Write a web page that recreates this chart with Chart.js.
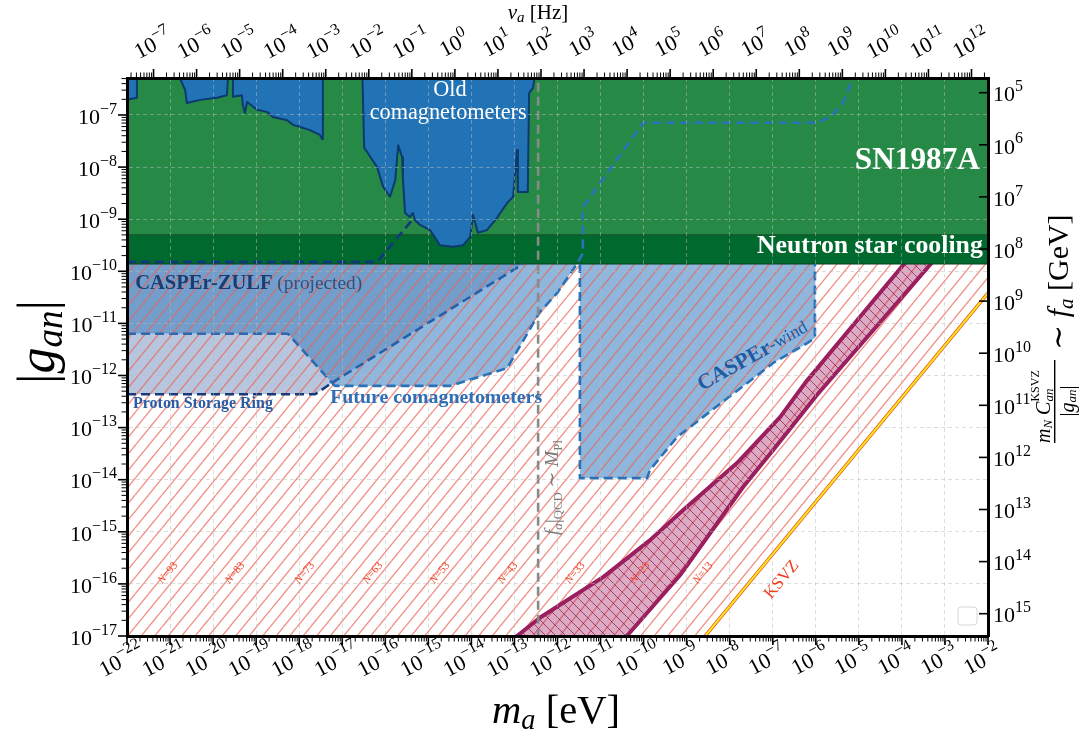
<!DOCTYPE html>
<html>
<head>
<meta charset="utf-8">
<script src="https://cdn.jsdelivr.net/npm/chart.js@4.4.1/dist/chart.umd.min.js"></script>
<style>
  html, body { margin: 0; padding: 0; background: #fff; }
  canvas { display: block; }
</style>
</head>
<body>
<canvas id="axionChart" width="1084" height="735"></canvas>
<script>
// axis extents (log10 values)
const massLimits = [-22, -2];           // m_a [eV]
const couplingLimits = [-17, -6.29];    // |g_an|
const hzPerEv = 2.418e14;               // nu_a = m_a / (2 pi hbar)
const faNorm = -1.572;                  // log10(m_N C_an^KSVZ / GeV)

const massTickExp = [-22, -21, -20, -19, -18, -17, -16, -15, -14, -13, -12, -11, -10, -9, -8, -7, -6, -5, -4, -3, -2];
const couplingTickExp = [-17, -16, -15, -14, -13, -12, -11, -10, -9, -8, -7];
const hzTickExp = [-7, -6, -5, -4, -3, -2, -1, 0, 1, 2, 3, 4, 5, 6, 7, 8, 9, 10, 11, 12];
const faTickExp = [5, 6, 7, 8, 9, 10, 11, 12, 13, 14, 15];

// all curves below are log10(m_a/eV), log10(|g_an|)
const snBound = -9.30;
const nsBound = -9.86;

const oldComagM = [-22, -21.77, -21.77, -20.93, -20.65, -20.61, -20.30, -19.91, -19.68, -19.63, -19.54, -19.54, -19.33, -19.31, -19.26, -19.21, -18.98, -18.75, -18.61, -18.28, -18.14, -17.98, -17.75, -17.52, -17.47, -17.45, -16.54, -16.49, -16.19, -16.05, -15.89, -15.77, -15.70, -15.61, -15.59, -15.54, -15.43, -15.36, -15.31, -15.19, -14.96, -14.73, -14.43, -14.19, -14.03, -13.96, -13.85, -13.64, -13.41, -13.17, -13.03, -12.94, -12.92, -12.69, -12.66, -12.57, -12.48, -2];
const oldComagG = [-6.71, -6.67, -6, -6, -6.52, -6.77, -6.71, -6.67, -6.62, -6, -6, -6.65, -6.62, -6.81, -6.96, -6.75, -6.90, -6.94, -7.04, -7.10, -7.19, -7.23, -7.29, -7.38, -7.46, -6, -6, -7.63, -8.00, -8.38, -8.57, -8.25, -7.58, -7.81, -8.25, -8.88, -8.96, -8.88, -9.02, -9.11, -9.21, -9.50, -9.53, -9.50, -9.34, -8.92, -9.26, -9.21, -8.98, -8.69, -8.57, -7.67, -8.48, -8.48, -6.58, -6.48, -6, -6];

const zulfM = [-22, -12.80, -17.24, -18.26, -22];
const zulfG = [-9.86, -9.86, -12.14, -11.20, -11.20];
const zulfTopM = [-22, -16.19, -15.36];
const zulfTopG = [-9.82, -9.82, -9.00];
const zulfEdgeM = [-17.24, -12.80];
const zulfEdgeG = [-12.14, -9.86];

const psrM = [-22, -18.26, -17.24, -17.63, -22];
const psrG = [-11.20, -11.20, -12.14, -12.36, -12.36];
const psrTopM = [-22, -18.26, -17.24];
const psrTopG = [-11.20, -11.20, -12.14];
const psrLowM = [-22, -17.63, -17.24];
const psrLowG = [-12.36, -12.36, -12.14];

const futureM = [-17.24, -12.80, -11.55, -12.01, -12.41, -13.17, -14.50, -17.17];
const futureG = [-12.14, -9.86, -9.86, -10.42, -10.78, -11.86, -12.20, -12.20];
const futureCurveM = [-17.24, -17.17, -14.50, -13.17, -12.41, -12.01, -11.55, -11.41, -11.41, -10.01, -5.97, -5.67, -5.37, -5.05];
const futureCurveG = [-12.14, -12.20, -12.20, -11.86, -10.78, -10.42, -9.86, -9.65, -8.77, -7.15, -7.15, -7.04, -6.77, -6.10];

const windM = [-11.48, -6.02, -6.02, -6.20, -6.99, -9.22, -9.85, -9.92, -11.48];
const windG = [-9.86, -9.86, -11.28, -11.38, -11.76, -13.18, -13.81, -13.97, -13.97];
const windEdgeM = [-11.48, -11.48, -9.92, -9.85, -9.22, -6.99, -6.20, -6.02, -6.02];
const windEdgeG = [-9.86, -13.97, -13.97, -13.81, -13.18, -11.76, -11.38, -11.28, -9.86];

const bandLeftM = [-13.28, -12.94, -12.41, -10.94, -9.85, -9.08, -7.83, -6.83, -6.20, -3.97, -3.60];
const bandLeftG = [-17.20, -17.00, -16.65, -15.87, -15.16, -14.58, -13.68, -12.80, -12.09, -9.88, -9.50];
const bandRightM = [-10.61, -10.39, -9.15, -7.69, -6.99, -5.97, -3.35, -2.97];
const bandRightG = [-17.20, -17.00, -15.83, -14.14, -13.43, -12.37, -9.88, -9.50];

const ksvzM = [-8.80, -2];
const ksvzG = [-17.23, -10.42];

const hatchM = [-22, -2, -2, -8.57, -22];
const hatchG = [-9.86, -9.86, -10.42, -17, -17];

const qcdM = [-12.45, -12.45];
const qcdG = [-17.3, -6];

const nLabelM = [-21.05, -19.49, -17.87, -16.29, -14.73, -13.15, -11.59, -10.08, -8.62];
const nLabelText = ['93', '83', '73', '63', '53', '43', '33', '23', '13'];
const nLabelG = -15.79;

const SERIF = "'Liberation Serif', 'DejaVu Serif', serif";
const gridColor = 'rgba(185,185,185,0.55)';

function pts(ms, gs) {
    return ms.map((m, i) => ({ x: Math.pow(10, m), y: Math.pow(10, gs[i]) }));
}

function stripes(w, h, step, color, width, down) {
    const c = document.createElement('canvas');
    c.width = w;
    c.height = h;
    const g = c.getContext('2d');
    g.strokeStyle = color;
    g.lineWidth = width;
    for (let k = -4; k <= 4; k++) {
        g.beginPath();
        if (down) {
            g.moveTo(k * step, 0);
            g.lineTo(k * step + w, h);
        } else {
            g.moveTo(k * step, h);
            g.lineTo(k * step + w, 0);
        }
        g.stroke();
    }
    return g.createPattern(c, 'repeat');
}

const hatchPattern = stripes(27, 33, 13.5, 'rgba(234,100,84,0.72)', 1.35, false);
const bandPattern = stripes(10, 10, 10, 'rgba(140,25,85,0.75)', 1, true);

function region(ms, gs, color, order) {
    return { data: pts(ms, gs), fill: 'shape', backgroundColor: color, borderColor: 'rgba(0,0,0,0)',
        borderWidth: 0, pointRadius: 0, order: order };
}

function outline(ms, gs, color, width, dash, order) {
    return { data: pts(ms, gs), fill: false, borderColor: color, borderWidth: width, borderDash: dash || [],
        borderJoinStyle: 'round', borderCapStyle: 'butt', pointRadius: 0, order: order };
}

function ceiling(g, color, edge, order) {
    return { data: pts(massLimits, [g, g]), fill: 'end', backgroundColor: color, borderColor: edge,
        borderWidth: 1.2, pointRadius: 0, order: order };
}

const bandM = bandLeftM.concat(bandRightM.slice().reverse());
const bandG = bandLeftG.concat(bandRightG.slice().reverse());
const dash = [9, 5];

const datasets = [
    region(psrM, psrG, 'rgba(137,158,200,0.6)', 90),
    region(zulfM, zulfG, 'rgba(22,92,168,0.6)', 90),
    region(futureM, futureG, 'rgba(68,133,197,0.6)', 90),
    region(windM, windG, 'rgba(68,133,197,0.6)', 90),
    region(hatchM, hatchG, hatchPattern, 85),
    region(bandM, bandG, 'rgba(167,42,105,0.4)', 80),
    region(bandM, bandG, bandPattern, 79),
    outline(bandLeftM, bandLeftG, '#9b1f5e', 4, null, 78),
    outline(bandRightM, bandRightG, '#9b1f5e', 4, null, 78),
    outline(ksvzM, ksvzG, '#e04a18', 3.4, null, 70),
    outline(ksvzM, ksvzG, '#ffe41c', 2.1, null, 69),
    ceiling(nsBound, '#006a2e', '#0b3f1f', 60),
    ceiling(snBound, '#268a46', '#16552c', 59),
    { data: pts(oldComagM, oldComagG), fill: 'end', backgroundColor: '#2272b6', borderColor: '#0c3a6f',
        borderWidth: 2, borderJoinStyle: 'round', pointRadius: 0, order: 50 },
    outline(zulfTopM, zulfTopG, '#10387a', 2.6, dash, 45),
    outline(psrTopM, psrTopG, '#2d68b0', 2.6, dash, 45),
    outline(psrLowM, psrLowG, '#173c7c', 2.6, dash, 45),
    outline(zulfEdgeM, zulfEdgeG, '#2560aa', 2.6, dash, 45),
    outline(futureCurveM, futureCurveG, '#2a72b8', 2.6, dash, 45),
    outline(windEdgeM, windEdgeG, '#2a72b8', 2.6, dash, 45),
    outline(qcdM, qcdG, '#8a8a8a', 2.6, [9, 5], 30)
];

// text parts: [text, size, style, dy, color]
function fontOf(p, k) {
    return (p[2] ? p[2] + ' ' : '') + (p[1] * k).toFixed(2) + 'px ' + SERIF;
}

function widthOf(ctx, parts, k) {
    let w = 0;
    parts.forEach(p => { ctx.font = fontOf(p, k); w += ctx.measureText(p[0]).width; });
    return w;
}

function rich(ctx, parts, x, y, align, target) {
    let k = 1;
    if (target) k = target / widthOf(ctx, parts, 1);
    const w = widthOf(ctx, parts, k);
    let cx = align === 'center' ? x - w / 2 : (align === 'right' ? x - w : x);
    parts.forEach(p => {
        ctx.font = fontOf(p, k);
        if (p[4]) ctx.fillStyle = p[4];
        ctx.fillText(p[0], cx, y + (p[3] || 0) * k);
        cx += ctx.measureText(p[0]).width;
    });
    return k;
}

function turned(ctx, x, y, deg, draw) {
    ctx.save();
    ctx.translate(x, y);
    ctx.rotate(-deg * Math.PI / 180);
    draw();
    ctx.restore();
}

function power(e) {
    return [['10', 22], [(e < 0 ? '\u2212' + (-e) : String(e)), 16, '', -8.5]];
}

const decorPlugin = {
    id: 'decor',
    afterDraw(chart) {
        const ctx = chart.ctx;
        const a = chart.chartArea;
        const sx = chart.scales.x, sy = chart.scales.y, sx2 = chart.scales.x2, sy2 = chart.scales.y2;
        const P = (lm, lg) => [sx.getPixelForValue(Math.pow(10, lm)), sy.getPixelForValue(Math.pow(10, lg))];
        const line = (x1, y1, x2, y2, w) => {
            ctx.lineWidth = w;
            ctx.beginPath();
            ctx.moveTo(x1, y1);
            ctx.lineTo(x2, y2);
            ctx.stroke();
        };

        ctx.save();
        ctx.strokeStyle = '#000';
        ctx.fillStyle = '#000';
        ctx.textAlign = 'left';
        ctx.textBaseline = 'middle';

        // bottom axis
        massTickExp.forEach((e, i) => {
            const px = sx.getPixelForValue(Math.pow(10, e));
            line(px, a.bottom + 1, px, a.bottom + 9, 1.6);
            if (i < massTickExp.length - 1) {
                for (let j = 2; j <= 9; j++) {
                    const mx = sx.getPixelForValue(j * Math.pow(10, e));
                    line(mx, a.bottom + 1, mx, a.bottom + 5.5, 1);
                }
            }
            turned(ctx, px - 5, a.bottom + 25, 28, () => {
                ctx.fillStyle = '#000';
                rich(ctx, power(e), 0, 0, 'center');
            });
        });

        // top axis (Hz)
        for (let e = -8; e <= 12; e++) {
            for (let j = 1; j <= 9; j++) {
                const px = sx2.getPixelForValue(j * Math.pow(10, e));
                if (px < a.left || px > a.right) continue;
                line(px, a.top - 1, px, a.top - (j === 1 ? 9 : 5.5), j === 1 ? 1.6 : 1);
            }
        }
        hzTickExp.forEach(e => {
            const px = sx2.getPixelForValue(Math.pow(10, e));
            turned(ctx, px, a.top - 33, 28, () => {
                ctx.fillStyle = '#000';
                rich(ctx, power(e), 0, 0, 'center');
            });
        });

        // left axis
        for (let e = -17; e <= -7; e++) {
            for (let j = 1; j <= 9; j++) {
                const py = sy.getPixelForValue(j * Math.pow(10, e));
                if (py < a.top || py > a.bottom) continue;
                line(a.left - 1, py, a.left - (j === 1 ? 9 : 5.5), py, j === 1 ? 1.6 : 1);
            }
        }
        couplingTickExp.forEach(e => {
            const py = sy.getPixelForValue(Math.pow(10, e));
            rich(ctx, power(e), a.left - 10, py + 3, 'right');
        });

        // right axis (f_a), ticks point inward
        faTickExp.forEach(e => {
            const py = sy2.getPixelForValue(Math.pow(10, e));
            line(a.right, py, a.right - 9, py, 1.6);
            rich(ctx, power(e), a.right + 5, py + 3, 'left');
        });

        // region labels (widths)
        let p;
        ctx.fillStyle = '#fff';
        p = P(-2.19, -7.88); rich(ctx, [['SN1987A', 26, 'bold']], p[0], p[1], 'right', 125);
        p = P(-2.12, -9.52); rich(ctx, [['Neutron star cooling', 19, 'bold']], p[0], p[1], 'right', 226);
        p = P(-14.54, -6.96);
        const kOld = rich(ctx, [['comagnetometers', 20]], p[0], p[1], 'center', 157);
        p = P(-14.50, -6.52); rich(ctx, [['Old', 20 * kOld]], p[0], p[1], 'center');

        p = P(-21.81, -10.24);
        rich(ctx, [['CASPEr-ZULF', 17, 'bold', 0, '#1b3d72'], [' (projected)', 16, '', 0, '#34507e']], p[0], p[1], 'left', 227);
        p = P(-21.86, -12.55);
        rich(ctx, [['Proton Storage Ring', 15, 'bold', 0, '#2b5ba3']], p[0], p[1], 'left', 140);
        p = P(-17.28, -12.43);
        rich(ctx, [['Future comagnetometers', 16, 'bold', 0, '#2e6fb7']], p[0], p[1], 'left', 212);

        p = P(-7.46, -11.63);
        turned(ctx, p[0], p[1], 29, () => {
            rich(ctx, [['CASPEr', 18, 'bold', 0, '#1e5ca6'], ['-wind', 15, '', 0, '#1e5ca6']], 0, 0, 'center', 123);
        });

        p = P(-6.79, -15.92);
        turned(ctx, p[0], p[1], 50, () => {
            rich(ctx, [['KSVZ', 17, '', 0, '#f03c1e']], 0, 0, 'center');
        });

        nLabelM.forEach((m, i) => {
            const q = P(m, nLabelG);
            turned(ctx, q[0], q[1], 50, () => {
                rich(ctx, [['N', 11, 'italic', 0, '#f03c1e'], ['=' + nLabelText[i], 11]], 0, 0, 'center');
            });
        });

        p = P(-12.10, -14.15);
        turned(ctx, p[0], p[1], 90, () => {
            rich(ctx, [['f', 15, 'italic', 0, '#7a7a7a'], ['a', 10, 'italic', 4], ['|', 16], ['QCD', 10, '', 4],
                [' \u223c ', 15], ['M', 15, 'italic'], ['Pl', 10, '', 4]], 0, 0, 'center', 95);
        });

        // empty legend frame
        ctx.strokeStyle = '#d6d6d6';
        ctx.fillStyle = 'rgba(255,255,255,0.8)';
        ctx.lineWidth = 1;
        ctx.beginPath();
        if (ctx.roundRect) ctx.roundRect(a.right - 30, a.bottom - 29, 19, 18, 3);
        else ctx.rect(a.right - 30, a.bottom - 29, 19, 18);
        ctx.fill();
        ctx.stroke();

        // axis titles
        ctx.fillStyle = '#000';
        rich(ctx, [['m', 40, 'italic'], ['a', 28, 'italic', 9], [' [eV]', 40]], 556, 712, 'center', 128);
        rich(ctx, [['\u03bd', 21, 'italic'], ['a', 15, 'italic', 5], [' [Hz]', 21]], 538, 13, 'center');

        turned(ctx, 40, 342, 90, () => {
            rich(ctx, [['|', 42], ['g', 42, 'italic'], ['an', 30, 'italic', 10], ['|', 42]], 0, 0, 'center', 84);
        });

        turned(ctx, 1060, 331, 90, () => {
            rich(ctx, [['\u223c ', 30], ['f', 30, 'italic'], ['a', 21, 'italic', 7], [' [GeV]', 30]], -19, 0, 'left');
            // fraction m_N C_an^KSVZ / |g_an|
            const u = -112;
            rich(ctx, [['m', 20, 'italic'], ['N', 13, 'italic', 4], [' C', 20, 'italic']], u, -15, 'left');
            const uSub = u + widthOf(ctx, [['m', 20, 'italic'], ['N', 13, 'italic'], [' C', 20, 'italic']], 1);
            rich(ctx, [['an', 13, 'italic']], uSub, -10, 'left');
            rich(ctx, [['KSVZ', 12]], uSub, -24, 'left');
            ctx.fillRect(-112, -6, 83, 1.4);
            rich(ctx, [['|', 20], ['g', 20, 'italic'], ['an', 13, 'italic', 4], ['|', 20]], -70, 9, 'center');
        });

        ctx.restore();
    }
};

const logAxis = (pos, min, max, size, gridOn) => ({
    type: 'logarithmic',
    position: pos,
    min: min,
    max: max,
    afterFit: s => { if (pos === 'top' || pos === 'bottom') s.height = size; else s.width = size; },
    ticks: { display: false },
    grid: { display: gridOn, drawOnChartArea: gridOn, drawTicks: false, color: gridColor, lineWidth: 0.9, z: 1 },
    border: { display: true, color: '#000', width: 3, dash: [4, 3], z: 2 }
});

const scales = {
    x: logAxis('bottom', Math.pow(10, massLimits[0]), Math.pow(10, massLimits[1]), 99, true),
    y: logAxis('left', Math.pow(10, couplingLimits[0]), Math.pow(10, couplingLimits[1]), 127, true),
    x2: logAxis('top', Math.pow(10, massLimits[0]) * hzPerEv, Math.pow(10, massLimits[1]) * hzPerEv, 78, false),
    y2: logAxis('right', Math.pow(10, faNorm - couplingLimits[1]), Math.pow(10, faNorm - couplingLimits[0]), 96, false)
};
scales.x.afterBuildTicks = s => { s.ticks = massTickExp.map(e => ({ value: Math.pow(10, e) })); };
scales.y.afterBuildTicks = s => { s.ticks = couplingTickExp.map(e => ({ value: Math.pow(10, e) })); };
scales.y2.reverse = true;

new Chart(document.getElementById('axionChart'), {
    type: 'line',
    data: { datasets: datasets },
    options: {
        responsive: false,
        animation: false,
        devicePixelRatio: 1,
        events: [],
        layout: { padding: 0 },
        elements: { line: { tension: 0 }, point: { radius: 0 } },
        plugins: { legend: { display: false }, tooltip: { enabled: false } },
        scales: scales
    },
    plugins: [decorPlugin]
});
</script>
</body>
</html>
